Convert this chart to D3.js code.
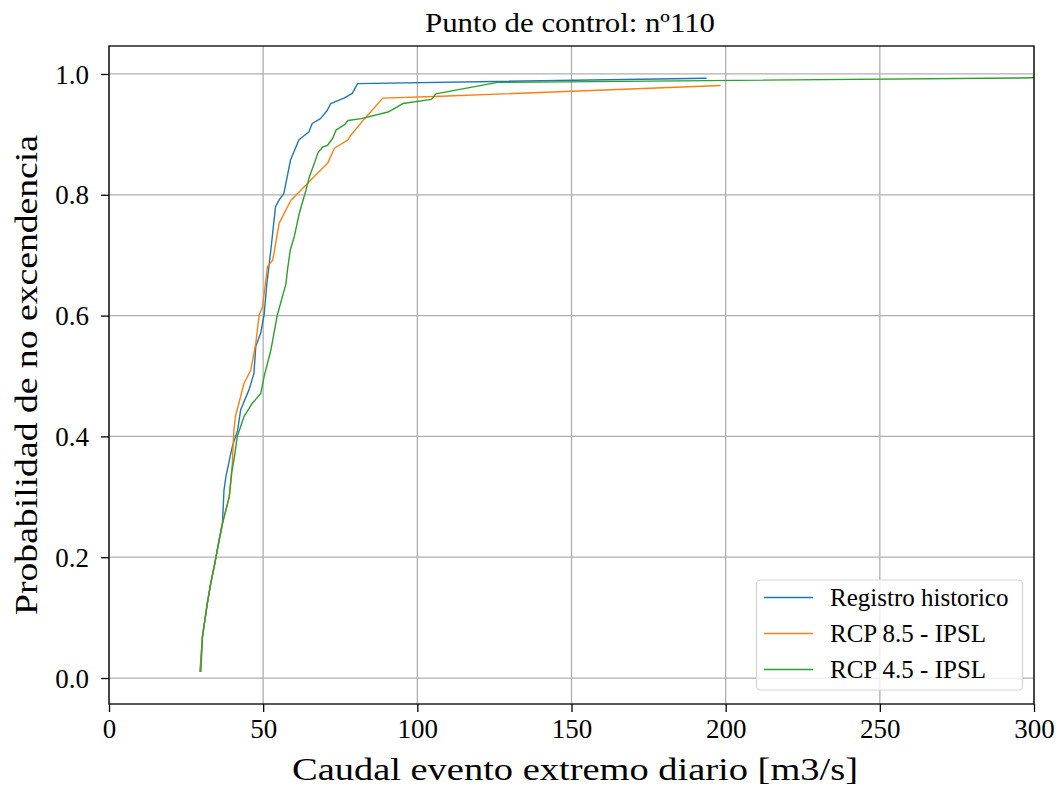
<!DOCTYPE html>
<html>
<head>
<meta charset="utf-8">
<script src="https://cdn.jsdelivr.net/npm/d3@7"></script>
<style>
  html, body { margin: 0; padding: 0; background: #fff; }
  svg text { font-family: "Liberation Serif", "DejaVu Serif", serif; fill: #000; }
</style>
</head>
<body>
<svg id="chart" width="1059" height="789"></svg>
<script>
// ---- data ----
const titleText = "Punto de control: nº110";
const xLabel = "Caudal evento extremo diario [m3/s]";
const yLabel = "Probabilidad de no excendencia";
const seriesNames = ["Registro historico", "RCP 8.5 - IPSL", "RCP 4.5 - IPSL"];
const seriesColors = ["#1f77b4", "#ff7f0e", "#2ca02c"];
const xTicks = [0, 50, 100, 150, 200, 250, 300];
const yTicks = [0.0, 0.2, 0.4, 0.6, 0.8, 1.0];

const histX = [29.5, 30.3, 31.9, 33.0, 34.1, 35.7, 36.8, 37.3, 37.9, 39.5, 40.1, 41.7, 42.7, 45.4, 47.0, 47.6, 49.2, 50.3, 51.2, 52.5, 54.0, 55.1, 56.7, 57.8, 58.9, 61.6, 64.8, 65.9, 68.6, 70.8, 71.9, 76.2, 78.9, 80.6, 193.8];
const histP = [0.010, 0.068, 0.124, 0.157, 0.184, 0.228, 0.256, 0.311, 0.333, 0.372, 0.385, 0.410, 0.444, 0.477, 0.504, 0.549, 0.571, 0.601, 0.653, 0.709, 0.780, 0.791, 0.802, 0.830, 0.858, 0.891, 0.904, 0.918, 0.926, 0.940, 0.951, 0.960, 0.968, 0.984, 0.993];

const rcp85X = [29.6, 30.3, 31.9, 33.0, 34.1, 35.7, 36.8, 37.9, 39.0, 40.0, 40.5, 41.0, 43.8, 46.0, 47.6, 48.7, 49.8, 51.4, 53.1, 55.2, 59.0, 63.9, 67.7, 70.9, 73.1, 77.5, 78.5, 82.9, 88.8, 107.8, 198.4];
const rcp85P = [0.010, 0.068, 0.124, 0.157, 0.184, 0.228, 0.256, 0.278, 0.300, 0.355, 0.410, 0.433, 0.488, 0.510, 0.554, 0.601, 0.615, 0.681, 0.692, 0.753, 0.791, 0.816, 0.836, 0.852, 0.877, 0.891, 0.899, 0.926, 0.960, 0.963, 0.981];

const rcp45X = [29.8, 30.3, 31.9, 33.0, 34.1, 35.7, 36.8, 37.9, 39.0, 39.8, 40.8, 41.6, 43.8, 46.5, 49.2, 50.3, 52.5, 54.6, 57.4, 57.9, 58.8, 60.1, 61.7, 63.9, 65.0, 66.6, 67.7, 69.3, 70.9, 72.6, 73.6, 76.4, 77.5, 81.8, 90.5, 95.3, 104.6, 106.0, 126.0, 330.0];
const rcp45P = [0.010, 0.068, 0.124, 0.157, 0.184, 0.228, 0.256, 0.278, 0.300, 0.340, 0.370, 0.400, 0.433, 0.455, 0.471, 0.499, 0.543, 0.601, 0.653, 0.676, 0.709, 0.731, 0.769, 0.808, 0.830, 0.852, 0.869, 0.879, 0.882, 0.894, 0.907, 0.916, 0.923, 0.926, 0.937, 0.951, 0.958, 0.967, 0.986, 0.995];

const seriesX = [histX, rcp85X, rcp45X];
const seriesP = [histP, rcp85P, rcp45P];

// ---- layout ----
const plot = { left: 109, right: 1034, top: 46, bottom: 704 };

const svg = d3.select("#chart");
const x = d3.scaleLinear().domain([0, 300]).range([plot.left, plot.right]);
const y = d3.scaleLinear().domain([-0.043, 1.0463]).range([plot.bottom, plot.top]);

svg.append("defs").append("clipPath").attr("id", "clip")
  .append("rect").attr("x", plot.left).attr("y", plot.top)
  .attr("width", plot.right - plot.left).attr("height", plot.bottom - plot.top);

// grid
const grid = svg.append("g");
grid.selectAll("line.gx").data(xTicks).join("line")
  .attr("x1", d => x(d)).attr("x2", d => x(d))
  .attr("y1", plot.top).attr("y2", plot.bottom)
  .attr("stroke", "#b0b0b0").attr("stroke-width", 1.3);
grid.selectAll("line.gy").data(yTicks).join("line")
  .attr("y1", d => y(d)).attr("y2", d => y(d))
  .attr("x1", plot.left).attr("x2", plot.right)
  .attr("stroke", "#b0b0b0").attr("stroke-width", 1.3);

// lines
const line = d3.line().x(d => x(d[0])).y(d => y(d[1]));
const lines = svg.append("g").attr("clip-path", "url(#clip)");
seriesX.forEach((xs, i) => {
  const pts = xs.map((v, j) => [v, seriesP[i][j]]);
  lines.append("path").datum(pts)
    .attr("d", line).attr("fill", "none")
    .attr("stroke", seriesColors[i]).attr("stroke-width", 1.4)
    .attr("stroke-linejoin", "round");
});

// axes
const xAxis = d3.axisBottom(x).tickValues(xTicks).tickFormat(d3.format("d")).tickSize(8).tickPadding(7);
const yAxis = d3.axisLeft(y).tickValues(yTicks).tickFormat(d3.format(".1f")).tickSize(8).tickPadding(12);
const gx = svg.append("g").attr("transform", `translate(0,${plot.bottom})`).call(xAxis);
const gy = svg.append("g").attr("transform", `translate(${plot.left},0)`).call(yAxis);
[gx, gy].forEach(g => {
  g.select(".domain").remove();
  g.selectAll(".tick line").attr("stroke", "#000").attr("stroke-width", 1.3);
  g.selectAll(".tick text").style("font-size", "27px").style("font-family", "Liberation Serif");
});
gy.selectAll(".tick text").attr("dy", "0.34em");

// frame
svg.append("rect").attr("x", plot.left).attr("y", plot.top)
  .attr("width", plot.right - plot.left).attr("height", plot.bottom - plot.top)
  .attr("fill", "none").attr("stroke", "#000").attr("stroke-width", 1.3);

// title & labels
svg.append("text").attr("x", 570).attr("y", 32)
  .attr("text-anchor", "middle").style("font-size", "27px")
  .attr("textLength", 290).attr("lengthAdjust", "spacingAndGlyphs").text(titleText);
svg.append("text").attr("x", 575).attr("y", 780)
  .attr("text-anchor", "middle").style("font-size", "32px")
  .attr("textLength", 566).attr("lengthAdjust", "spacingAndGlyphs").text(xLabel);
svg.append("text").attr("transform", `translate(37,${(plot.top + plot.bottom) / 2}) rotate(-90)`)
  .attr("text-anchor", "middle").style("font-size", "32px")
  .attr("textLength", 480).attr("lengthAdjust", "spacingAndGlyphs").text(yLabel);

// legend
const lg = svg.append("g");
lg.append("rect").attr("x", 756.5).attr("y", 580).attr("width", 266).attr("height", 110)
  .attr("rx", 4).attr("fill", "#fff").attr("fill-opacity", 0.8)
  .attr("stroke", "#d5d5d5").attr("stroke-width", 1.2);
seriesNames.forEach((name, i) => {
  const yy = 597.5 + i * 36;
  lg.append("line").attr("x1", 764).attr("x2", 813).attr("y1", yy).attr("y2", yy)
    .attr("stroke", seriesColors[i]).attr("stroke-width", 1.4);
  lg.append("text").attr("x", 830).attr("y", yy).attr("dy", "0.33em")
    .style("font-size", "25px").text(name);
});
</script>
</body>
</html>
